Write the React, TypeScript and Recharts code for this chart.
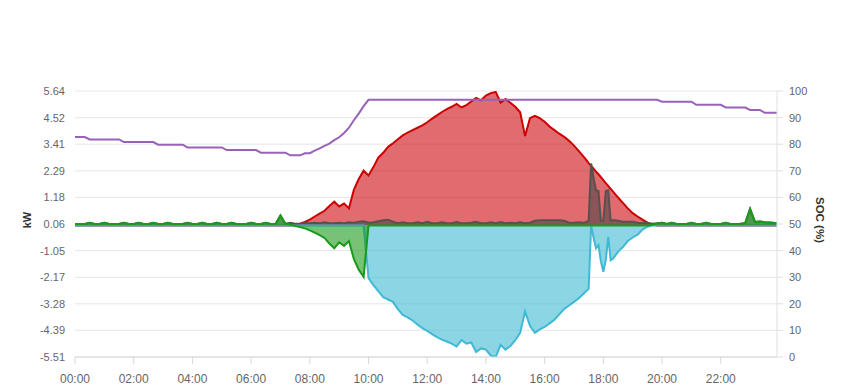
import { Area, CartesianGrid, ComposedChart, Line, XAxis, YAxis } from "recharts";

// sample times in minutes after midnight: 10 min steps, 5 min around the evening load spikes
const span = (from: number, to: number, step: number) => {
  const out: number[] = [];
  for (let m = from; m <= to; m += step) out.push(m);
  return out;
};
const minutes = [...span(0, 1040, 10), ...span(1045, 1120, 5), ...span(1130, 1430, 10), 1435];

const hourTicks = [0, 120, 240, 360, 480, 600, 720, 840, 960, 1080, 1200, 1320];
const hourLabels = ["00:00", "02:00", "04:00", "06:00", "08:00", "10:00", "12:00", "14:00", "16:00", "18:00", "20:00", "22:00"];
const kwTicks = [-5.51, -4.39, -3.28, -2.17, -1.05, 0.06, 1.18, 2.29, 3.41, 4.52, 5.64];
const socTicks = [0, 10, 20, 30, 40, 50, 60, 70, 80, 90, 100];

// PV production (kW)
const production = [
  0, 0, 0, 0, 0, 0,
  0, 0, 0, 0, 0, 0,
  0, 0, 0, 0, 0, 0,
  0, 0, 0, 0, 0, 0,
  0, 0, 0, 0, 0, 0,
  0, 0, 0, 0, 0, 0,
  0, 0, 0, 0, 0, 0,
  0, 0, 0, 0.02, 0.08, 0.15,
  0.25, 0.38, 0.5, 0.62, 0.82, 1.0,
  0.8, 0.92, 0.72, 1.5, 1.95, 2.3,
  2.1, 2.45, 2.85, 3.05, 3.3, 3.45,
  3.62, 3.78, 3.9, 4.0, 4.1, 4.2,
  4.33, 4.48, 4.62, 4.76, 4.88, 4.98,
  5.1, 4.95, 5.05, 5.2, 5.35, 5.25,
  5.45, 5.55, 5.6, 5.15, 5.3, 5.15,
  4.98, 4.75, 3.75, 4.5, 4.6, 4.5,
  4.35, 4.15, 4.0, 3.85, 3.72, 3.55,
  3.35, 3.12, 2.88,
  2.75, 2.62, 2.5, 2.38, 2.26, 2.15, 2.03, 1.9, 1.78, 1.66, 1.54, 1.42, 1.3, 1.18, 1.06, 0.95,
  0.72,
  0.52, 0.38, 0.25, 0.12, 0.03, 0,
  0, 0, 0, 0, 0, 0,
  0, 0, 0, 0, 0, 0,
  0, 0, 0, 0, 0, 0,
  0, 0, 0, 0, 0, 0,
  0,
];

// house consumption (kW)
const consumption = [
  0.07, 0.07, 0.07, 0.12, 0.07, 0.07,
  0.12, 0.07, 0.07, 0.07, 0.12, 0.07,
  0.07, 0.12, 0.07, 0.07, 0.12, 0.07,
  0.07, 0.12, 0.07, 0.07, 0.07, 0.12,
  0.07, 0.07, 0.12, 0.07, 0.07, 0.12,
  0.07, 0.07, 0.12, 0.07, 0.07, 0.07,
  0.12, 0.07, 0.07, 0.12, 0.07, 0.07,
  0.42, 0.08, 0.12, 0.08, 0.08, 0.1,
  0.1, 0.12, 0.1, 0.14, 0.1, 0.1,
  0.12, 0.1, 0.14, 0.12, 0.16, 0.18,
  0.12, 0.14, 0.18, 0.22, 0.24, 0.16,
  0.1, 0.14, 0.1, 0.1, 0.14, 0.1,
  0.16, 0.1, 0.1, 0.14, 0.1, 0.1,
  0.15, 0.1, 0.1, 0.12, 0.16, 0.1,
  0.1, 0.14, 0.1, 0.15, 0.1, 0.12,
  0.1, 0.14, 0.1, 0.12, 0.2, 0.22,
  0.22, 0.22, 0.22, 0.22, 0.2, 0.12,
  0.12, 0.14, 0.12,
  0.15, 0.2, 2.6, 2.0, 1.48, 1.45, 0.2, 0.2, 1.45, 1.48, 0.2, 0.22, 0.22, 0.2, 0.18, 0.16,
  0.16,
  0.16, 0.12, 0.1, 0.12, 0.08, 0.1,
  0.12, 0.07, 0.12, 0.07, 0.07, 0.07,
  0.12, 0.07, 0.07, 0.12, 0.07, 0.07,
  0.07, 0.12, 0.07, 0.07, 0.08, 0.1,
  0.7, 0.15, 0.17, 0.14, 0.13, 0.11,
  0.1,
];

// grid (kW, negative = export)
const grid = [
  0, 0, 0, 0, 0, 0,
  0, 0, 0, 0, 0, 0,
  0, 0, 0, 0, 0, 0,
  0, 0, 0, 0, 0, 0,
  0, 0, 0, 0, 0, 0,
  0, 0, 0, 0, 0, 0,
  0, 0, 0, 0, 0, 0,
  0, 0, 0, 0, 0, 0,
  0, 0, 0, 0, 0, 0,
  0, 0, 0, 0, 0, 0,
  -2.2, -2.5, -2.75, -3.0, -3.1, -3.2,
  -3.5, -3.75, -3.85, -3.98, -4.15, -4.3,
  -4.42, -4.55, -4.68, -4.78, -4.86, -4.95,
  -5.07, -4.8, -4.95, -4.9, -5.3, -5.15,
  -5.2, -5.45, -5.51, -5.0, -5.2, -5.05,
  -4.8, -4.5, -3.6, -4.2, -4.5, -4.35,
  -4.25, -4.1, -3.95, -3.72, -3.5, -3.35,
  -3.2, -3.05, -2.85,
  -2.75, -2.65, 0, -0.5, -0.95, -0.82, -1.5, -1.94, -1.45, -0.47, -1.45, -1.38, -1.24, -1.1, -1.0, -0.9,
  -0.65,
  -0.5, -0.38, -0.17, -0.05, 0, 0,
  0, 0, 0, 0, 0, 0,
  0, 0, 0, 0, 0, 0,
  0, 0, 0, 0, 0, 0,
  0, 0, 0, 0, 0, 0,
  0,
];

// battery (kW, negative = charging)
const battery = [
  0.07, 0.07, 0.07, 0.12, 0.07, 0.07,
  0.12, 0.07, 0.07, 0.07, 0.12, 0.07,
  0.07, 0.12, 0.07, 0.07, 0.12, 0.07,
  0.07, 0.12, 0.07, 0.07, 0.07, 0.12,
  0.07, 0.07, 0.12, 0.07, 0.07, 0.12,
  0.07, 0.07, 0.12, 0.07, 0.07, 0.07,
  0.12, 0.07, 0.07, 0.12, 0.07, 0.07,
  0.42, 0.07, 0.04, -0.02, -0.06, -0.12,
  -0.2, -0.3, -0.4, -0.52, -0.75, -0.95,
  -0.7, -0.85, -0.65, -1.4, -1.85, -2.15,
  0, 0, 0, 0, 0, 0,
  0, 0, 0, 0, 0, 0,
  0, 0, 0, 0, 0, 0,
  0, 0, 0, 0, 0, 0,
  0, 0, 0, 0, 0, 0,
  0, 0, 0, 0, 0, 0,
  0, 0, 0, 0, 0, 0,
  0, 0, 0,
  0, 0, 0, 0, 0, 0, 0, 0, 0, 0, 0, 0, 0, 0, 0, 0,
  0,
  0, 0, 0, 0, 0.03, 0.08,
  0.12, 0.07, 0.12, 0.07, 0.07, 0.07,
  0.12, 0.07, 0.07, 0.12, 0.07, 0.07,
  0.07, 0.12, 0.07, 0.07, 0.08, 0.1,
  0.7, 0.15, 0.17, 0.14, 0.13, 0.11,
  0.1,
];

// battery state of charge (%)
const soc = [
  82.7, 82.7, 82.7, 81.8, 81.8, 81.8,
  81.8, 81.8, 81.8, 81.8, 80.8, 80.8,
  80.8, 80.8, 80.8, 80.8, 80.8, 79.8,
  79.8, 79.8, 79.8, 79.8, 79.8, 78.8,
  78.8, 78.8, 78.8, 78.8, 78.8, 78.8,
  78.8, 77.8, 77.8, 77.8, 77.8, 77.8,
  77.8, 77.8, 76.8, 76.8, 76.8, 76.8,
  76.8, 76.8, 75.8, 75.8, 75.8, 76.6,
  76.6, 77.6, 78.4, 79.4, 80.2, 81.5,
  82.6, 84.2, 86.2, 89.0, 91.5, 94.3,
  96.7, 96.7, 96.7, 96.7, 96.7, 96.7,
  96.7, 96.7, 96.7, 96.7, 96.7, 96.7,
  96.7, 96.7, 96.7, 96.7, 96.7, 96.7,
  96.7, 96.7, 96.7, 96.7, 96.7, 96.7,
  96.7, 96.7, 96.7, 96.7, 96.7, 96.7,
  96.7, 96.7, 96.7, 96.7, 96.7, 96.7,
  96.7, 96.7, 96.7, 96.7, 96.7, 96.7,
  96.7, 96.7, 96.7,
  96.7, 96.7, 96.7, 96.7, 96.7, 96.7, 96.7, 96.7, 96.7, 96.7, 96.7, 96.7, 96.7, 96.7, 96.7, 96.7,
  96.7,
  96.7, 96.7, 96.7, 96.7, 96.7, 96.7,
  96.0, 96.0, 96.0, 96.0, 96.0, 96.0,
  96.0, 94.8, 94.8, 94.8, 94.8, 94.8,
  94.8, 93.8, 93.8, 93.8, 93.8, 93.8,
  92.9, 92.9, 92.9, 91.8, 91.8, 91.8,
  91.8,
];

const rows = minutes.map((t, i) => ({
  t,
  production: production[i],
  consumption: consumption[i],
  grid: grid[i],
  battery: battery[i],
  soc: soc[i],
}));

const font = '"Liberation Sans", Arial, Helvetica, sans-serif';
const tickStyle = { fontSize: 11, fill: "#666666", fontFamily: font };

export default function App() {
  return (
    <div style={{ position: "absolute", left: 0, top: 0, width: 849, height: 390, background: "#fff" }}>
      <ComposedChart
        width={849}
        height={390}
        data={rows}
        margin={{ top: 91, right: 0, bottom: 0, left: 0 }}
      >
        <CartesianGrid yAxisId="kw" vertical={false} stroke="#e6e6e6" />
        <XAxis
          dataKey="t"
          type="number"
          domain={[0, 1435]}
          ticks={hourTicks}
          interval={0}
          height={33}
          tickFormatter={(v: number) => hourLabels[hourTicks.indexOf(v)]}
          stroke="#d8d8d8"
          tickSize={7}
          tickMargin={10}
          tick={{ fontSize: 12, fill: "#666666", fontFamily: font }}
        />
        <YAxis
          yAxisId="kw"
          width={75}
          domain={[-5.51, 5.64]}
          ticks={kwTicks}
          interval={0}
          allowDataOverflow
          axisLine={false}
          tickLine={false}
          tickSize={0}
          tickMargin={10}
          tickFormatter={(v: number) => v.toFixed(2)}
          tick={tickStyle}
        />
        <YAxis
          yAxisId="soc"
          orientation="right"
          width={72}
          domain={[0, 100]}
          ticks={socTicks}
          interval={0}
          stroke="#e0e0e0"
          tickSize={6}
          tickMargin={6}
          tick={{ ...tickStyle, textAnchor: "start" }}
        />
        <Area
          yAxisId="kw"
          type="linear"
          dataKey="production"
          baseValue={0}
          stroke="#cc0000"
          strokeWidth={2}
          fill="#cc0a10"
          fillOpacity={0.6}
          isAnimationActive={false}
        />
        <Area
          yAxisId="kw"
          type="linear"
          dataKey="consumption"
          baseValue={0}
          stroke="#5a5050"
          strokeWidth={2}
          fill="#444444"
          fillOpacity={0.55}
          isAnimationActive={false}
        />
        <Area
          yAxisId="kw"
          type="linear"
          dataKey="grid"
          baseValue={0}
          stroke="#3fb9d4"
          strokeWidth={2}
          fill="#3fb9d4"
          fillOpacity={0.6}
          isAnimationActive={false}
        />
        <Area
          yAxisId="kw"
          type="linear"
          dataKey="battery"
          baseValue={0}
          stroke="#1a9a1a"
          strokeWidth={2}
          fill="#1a9a1a"
          fillOpacity={0.6}
          isAnimationActive={false}
        />
        <Line
          yAxisId="soc"
          type="linear"
          dataKey="soc"
          stroke="#9862b8"
          strokeWidth={2}
          dot={false}
          isAnimationActive={false}
        />
        <text
          x={31}
          y={220}
          transform="rotate(-90 31 220)"
          textAnchor="middle"
          fill="#333333"
          style={{ fontSize: 11, fontWeight: 700, fontFamily: font }}
        >
          kW
        </text>
        <text
          x={816}
          y={220}
          transform="rotate(90 816 220)"
          textAnchor="middle"
          fill="#333333"
          style={{ fontSize: 11.5, fontWeight: 700, fontFamily: font }}
        >
          SOC (%)
        </text>
      </ComposedChart>
    </div>
  );
}
